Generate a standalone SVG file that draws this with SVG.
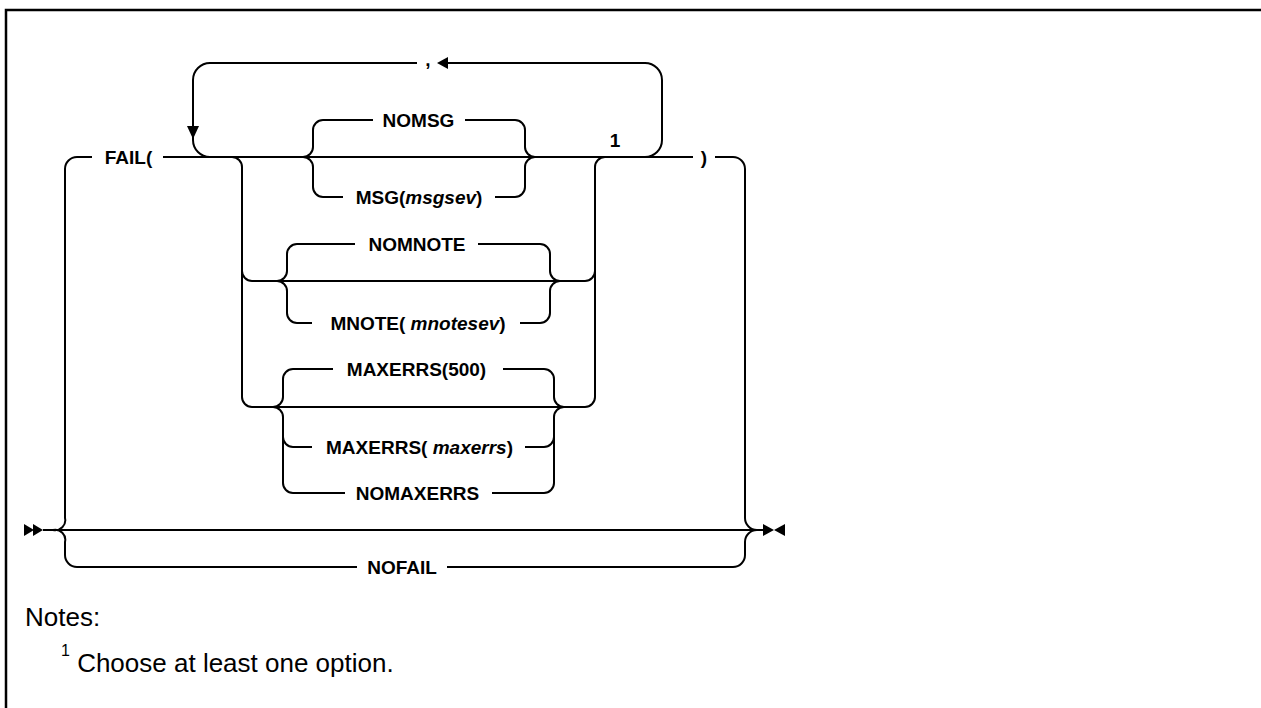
<svg xmlns="http://www.w3.org/2000/svg" width="1261" height="708" viewBox="0 0 1261 708">
<style>
.ln{fill:none;stroke:#000;stroke-width:2}
.lbl{font-family:"Liberation Sans",Arial,sans-serif;font-size:19px;font-weight:bold;fill:#000}
.it{font-style:italic}
.mid{text-anchor:middle}
.note{font-family:"Liberation Sans",Arial,sans-serif;font-size:26px;fill:#000}
.ah{fill:#000}
</style>
<rect width="1261" height="708" fill="#fff"/>
<path d="M6,708 V10 H1261" fill="none" stroke="#000" stroke-width="2.5"/>
<g id="connectors">
  <!-- main line -->
  <path class="ln" d="M43,530 H763"/>
  <polygon class="ah" points="24,524 34,530 24,536"/>
  <polygon class="ah" points="33,524 43,530 33,536"/>
  <polygon class="ah" points="763,524 774,530 763,536"/>
  <polygon class="ah" points="785,524 774,530 785,536"/>
  <!-- left outer fork -->
  <path class="ln" d="M53,530 A10 10 0 0 0 65,518 V169 A12 12 0 0 1 77,157 H92"/>
  <path class="ln" d="M53,530 A10 10 0 0 1 65,542 V555 A12 12 0 0 0 77,567 H357"/>
  <!-- right outer fork -->
  <path class="ln" d="M715,157 H733 A12 12 0 0 1 745,169 V518 A12 12 0 0 0 757,530"/>
  <path class="ln" d="M447,567 H733 A12 12 0 0 0 745,555 V542 A12 12 0 0 1 757,530"/>
  <!-- FAIL( row -->
  <path class="ln" d="M163,157 H693"/>
  <!-- repeat loop -->
  <path class="ln" d="M210,157 A17 17 0 0 1 193,140 V80 A17 17 0 0 1 210,63 H417"/>
  <path class="ln" d="M448,63 H645 A17 17 0 0 1 662,80 V140 A17 17 0 0 1 645,157"/>
  <polygon class="ah" points="187,126 199,126 193,139"/>
  <polygon class="ah" points="437,63 448,57 448,69"/>
  <!-- option group verticals -->
  <path class="ln" d="M232,157 A10 10 0 0 1 242,167 V397 A10 10 0 0 0 252,407 H585 A10 10 0 0 0 595,397 V167 A10 10 0 0 1 605,157"/>
  <path class="ln" d="M242,271 A10 10 0 0 0 252,281 H585 A10 10 0 0 0 595,271"/>
  <!-- group 1 forks -->
  <path class="ln" d="M303,157 A10 10 0 0 0 313,147 V130 A10 10 0 0 1 323,120 H373"/>
  <path class="ln" d="M303,157 A10 10 0 0 1 313,167 V187 A10 10 0 0 0 323,197 H343"/>
  <path class="ln" d="M465,120 H515 A10 10 0 0 1 525,130 V147 A10 10 0 0 0 535,157"/>
  <path class="ln" d="M495,197 H515 A10 10 0 0 0 525,187 V167 A10 10 0 0 1 535,157"/>
  <!-- group 2 forks -->
  <path class="ln" d="M277,281 A10 10 0 0 0 287,271 V254 A10 10 0 0 1 297,244 H355"/>
  <path class="ln" d="M277,281 A10 10 0 0 1 287,291 V313 A10 10 0 0 0 297,323 H312"/>
  <path class="ln" d="M478,244 H540 A10 10 0 0 1 550,254 V271 A10 10 0 0 0 560,281"/>
  <path class="ln" d="M520,323 H540 A10 10 0 0 0 550,313 V291 A10 10 0 0 1 560,281"/>
  <!-- group 3 forks -->
  <path class="ln" d="M273,407 A10 10 0 0 0 283,397 V379 A10 10 0 0 1 293,369 H333"/>
  <path class="ln" d="M273,407 A10 10 0 0 1 283,417 V483 A10 10 0 0 0 293,493 H345"/>
  <path class="ln" d="M283,437 A10 10 0 0 0 293,447 H312"/>
  <path class="ln" d="M503,369 H544 A10 10 0 0 1 554,379 V397 A10 10 0 0 0 564,407"/>
  <path class="ln" d="M492,493 H544 A10 10 0 0 0 554,483 V417 A10 10 0 0 1 564,407"/>
  <path class="ln" d="M525,447 H544 A10 10 0 0 0 554,437"/>
</g>
<g id="node-fail"><text class="lbl mid" x="128.5" y="164">FAIL(</text></g>
<g id="node-comma"><text class="lbl mid" x="428" y="66">,</text></g>
<g id="node-nomsg"><text class="lbl mid" x="418.5" y="127">NOMSG</text></g>
<g id="node-msg"><text class="lbl mid" x="419" y="204">MSG(<tspan class="it">msgsev</tspan>)</text></g>
<g id="node-note1"><text class="lbl mid" x="615" y="147">1</text></g>
<g id="node-close"><text class="lbl mid" x="704" y="164">)</text></g>
<g id="node-nomnote"><text class="lbl mid" x="417" y="251">NOMNOTE</text></g>
<g id="node-mnote"><text class="lbl mid" x="418" y="330">MNOTE( <tspan class="it">mnotesev</tspan>)</text></g>
<g id="node-maxerrs500"><text class="lbl mid" x="416.5" y="376">MAXERRS(500)</text></g>
<g id="node-maxerrs"><text class="lbl mid" x="419.5" y="454">MAXERRS( <tspan class="it">maxerrs</tspan>)</text></g>
<g id="node-nomaxerrs"><text class="lbl mid" x="417.5" y="500">NOMAXERRS</text></g>
<g id="node-nofail"><text class="lbl mid" x="402" y="574">NOFAIL</text></g>
<g id="notes">
  <text class="note" x="25" y="626">Notes:</text>
  <text class="note" x="61" y="672"><tspan font-size="16" dy="-16">1</tspan><tspan dy="16"> Choose at least one option.</tspan></text>
</g>
</svg>
